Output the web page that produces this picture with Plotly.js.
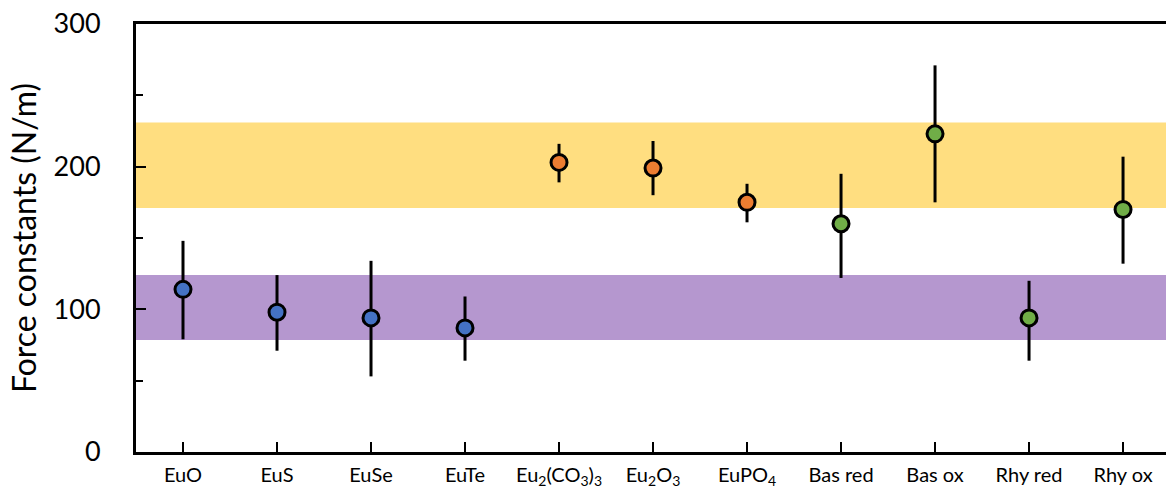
<!DOCTYPE html>
<html>
<head>
<meta charset="utf-8">
<script src="https://cdn.plot.ly/plotly-3.0.1.min.js"></script>
<style>html,body{margin:0;padding:0;background:#fff;}#chart{width:1166px;height:491px;}</style>
</head>
<body>
<div id="chart"></div>
<script>
const categories = ["EuO","EuS","EuSe","EuTe","Eu<sub>2</sub>(CO<sub>3</sub>)<sub>3</sub>","Eu<sub>2</sub>O<sub>3</sub>","EuPO<sub>4</sub>","Bas red","Bas ox","Rhy red","Rhy ox"];
const values   = [114, 98, 94, 87, 203, 199, 175, 160, 223, 94, 170];
const errPlus  = [34, 26, 40, 22, 13, 19, 13, 35, 48, 26, 37];
const errMinus = [35, 27, 41, 23, 14, 19, 14, 38, 48, 30, 38];
const groupOf  = ["sulfide","sulfide","sulfide","sulfide","oxide","oxide","oxide","rock","rock","rock","rock"];
const groupColors = {sulfide:"#4472C4", oxide:"#ED7D31", rock:"#70AD47"};
const yellowBand = [171, 231];
const purpleBand = [78.5, 124];
const yTicks = [0, 100, 200, 300];

const xIdx = categories.map((c, i) => i);
const trace = {
  type: "scatter", mode: "markers",
  x: xIdx, y: values,
  error_y: {type: "data", symmetric: false, array: errPlus, arrayminus: errMinus,
            color: "#000", thickness: 3, width: 0},
  marker: {size: 16, color: groupOf.map(g => groupColors[g]), line: {color: "#000", width: 3}},
  hoverinfo: "skip", showlegend: false
};

const layout = {
  width: 1166, height: 491,
  margin: {l: 136, r: 0, t: 24, b: 39},
  paper_bgcolor: "#fff", plot_bgcolor: "#fff",
  font: {family: "Lato, 'Open Sans', sans-serif", color: "#000"},
  showlegend: false,
  xaxis: {
    range: [-0.5, 10.457], tickmode: "array", tickvals: xIdx, ticktext: categories,
    showline: true, linecolor: "#000", linewidth: 3, mirror: true,
    ticks: "inside", ticklen: 10, tickwidth: 2, tickcolor: "#000",
    showgrid: false, zeroline: false, tickfont: {size: 20}, ticklabelstandoff: 3
  },
  yaxis: {
    range: [0, 300], tickmode: "array", tickvals: yTicks,
    showline: true, linecolor: "#000", linewidth: 3,
    ticks: "inside", ticklen: 10, tickwidth: 2, tickcolor: "#000",
    minor: {dtick: 50, ticks: "inside", ticklen: 7, tickwidth: 2, tickcolor: "#000", showgrid: false},
    showgrid: false, zeroline: false, tickfont: {size: 27}, ticklabelstandoff: 27,
    title: {text: "Force constants (N/m)", font: {size: 32}, standoff: 8}
  },
  shapes: [
    {type: "rect", layer: "below", xref: "paper", yref: "y", x0: 0, x1: 1,
     y0: yellowBand[0], y1: yellowBand[1], fillcolor: "#FFDE80", line: {width: 0}},
    {type: "rect", layer: "below", xref: "paper", yref: "y", x0: 0, x1: 1,
     y0: purpleBand[0], y1: purpleBand[1], fillcolor: "#B597CF", line: {width: 0}}
  ]
};
Plotly.newPlot("chart", [trace], layout, {displayModeBar: false, staticPlot: true});
</script>
</body>
</html>
